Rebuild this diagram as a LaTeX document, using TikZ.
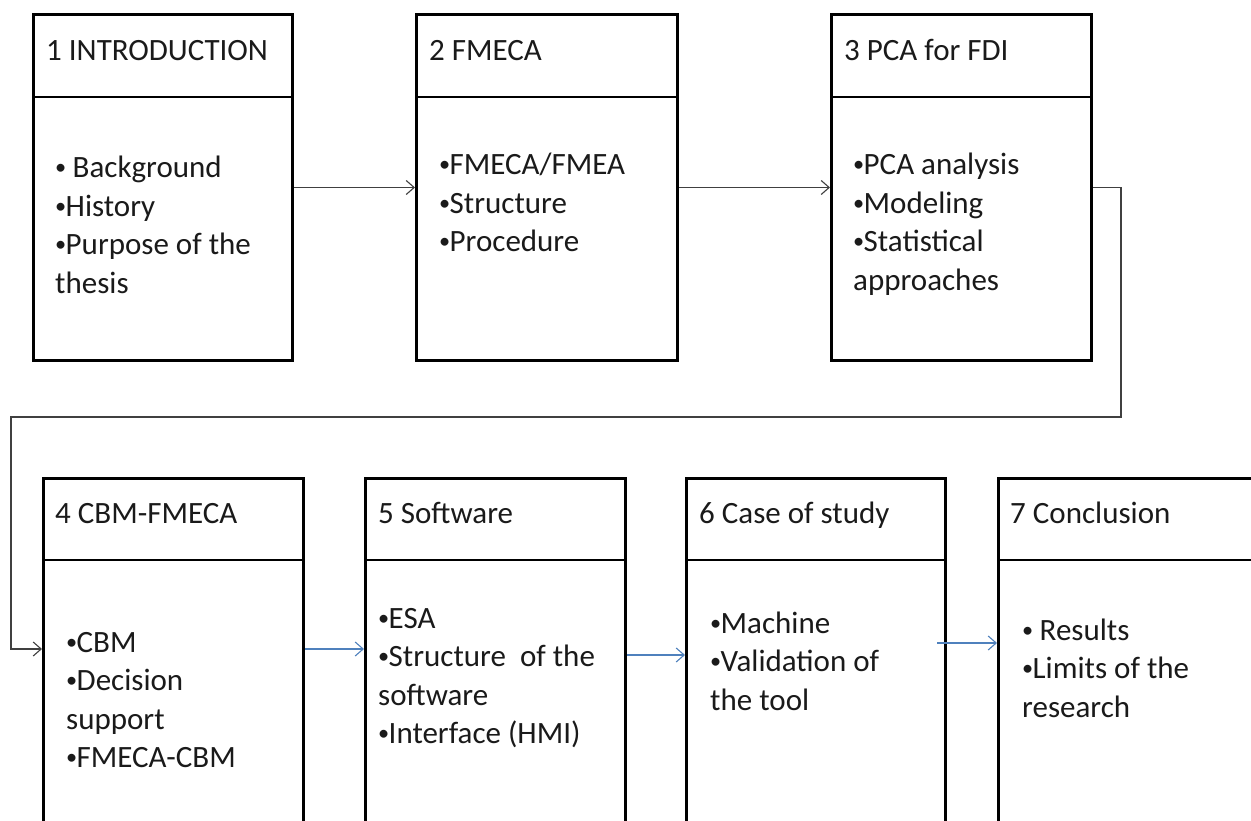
\documentclass[tikz,border=0pt]{standalone}
\usepackage{fontspec}
\setmainfont{Carlito}
\usetikzlibrary{arrows.meta}
\definecolor{txt}{HTML}{1A1A1A}
\definecolor{grayline}{HTML}{404040}
\definecolor{blueline}{HTML}{4F81BD}
\newcommand\bul{\makebox[10.5pt][l]{\raisebox{3pt}{\scalebox{0.72}{•}}}}
\newcommand\bodytext[1]{\parbox[t]{250pt}{\fontsize{31}{38.5}\selectfont\raggedright #1}}
\tikzset{
  box/.style={draw=black, line width=3pt, minimum width=260pt, inner sep=0pt, anchor=north west},
  topbox/.style={box, minimum height=346pt},
  lowbox/.style={box, minimum height=380pt},
  divider/.style={draw=black, line width=2pt},
  title/.style={anchor=base west, inner sep=0pt, text=txt, font=\fontsize{31}{37}\selectfont},
  body/.style={anchor=base west, inner sep=0pt, text=txt},
  gconn/.style={draw=grayline, line width=1.1pt, -{Straight Barb[length=8pt,width=14pt,line width=1.1pt]}},
  bconn/.style={draw=blueline, line width=1.1pt, -{Straight Barb[length=8pt,width=14pt,line width=1.1pt]}},
}
\begin{document}
\begin{tikzpicture}[x=1pt,y=-1pt]
\useasboundingbox (0,0) rectangle (1251,821);
\fill[white] (0,0) rectangle (1251,821);
\clip (0,0) rectangle (1251,821);

% top row boxes
\node[topbox, minimum width=259pt] (b1) at (32,13) {};
\node[topbox, minimum width=261pt] (b2) at (415,13) {};
\node[topbox] (b3) at (830,13) {};
% bottom row boxes
\node[lowbox] (b4) at (42,477) {};
\node[lowbox] (b5) at (364,477) {};
\node[lowbox, minimum width=259pt] (b6) at (685,477) {};
\node[lowbox, minimum width=280pt] (b7) at (997,477) {};

% header dividers
\foreach \b in {b1,b2,b3} {
  \draw[divider] ([yshift=-84pt]\b.north west) -- ([yshift=-84pt]\b.north east);
}
\foreach \b in {b4,b5,b6,b7} {
  \draw[divider] ([yshift=-83pt]\b.north west) -- ([yshift=-83pt]\b.north east);
}

% titles
\node[title] (h1) at (46,61) {1 INTRODUCTION};
\node[title] (h2) at (429,61) {2 FMECA};
\node[title] (h3) at (844,61) {3 PCA for FDI};
\node[title] (h4) at (55,523) {4 CBM-FMECA};
\node[title] (h5) at (378,523) {5 Software};
\node[title] (h6) at (699,523) {6 Case of study};
\node[title] (h7) at (1010,523) {7 Conclusion};

% bodies
\node[body] (t1) at (55,178) {\bodytext{\bul\ Background\\\bul History\\\bul Purpose of the\\thesis}};
\node[body] (t2) at (439,175) {\bodytext{\bul FMECA/FMEA\\\bul Structure\\\bul Procedure}};
\node[body] (t3) at (853,175) {\bodytext{\bul PCA analysis\\\bul Modeling\\\bul Statistical\\approaches}};
\node[body] (t4) at (66,652) {\bodytext{\bul CBM\\\bul Decision\\support\\\bul FMECA-CBM}};
\node[body] (t5) at (378,628) {\bodytext{\bul ESA\\\bul Structure\ \ of the\\software\\\bul Interface (HMI)}};
\node[body] (t6) at (710,633) {\bodytext{\bul Machine\\\bul Validation of\\the tool}};
\node[body] (t7) at (1022,640) {\bodytext{\bul\ Results\\\bul Limits of the\\research}};

% connectors
\coordinate (k1) at (1121,417);
\coordinate (k2) at (11,417);
\coordinate (r4) at (0,649);
\coordinate (r5) at (0,655);
\coordinate (r6) at (0,643);
\draw[gconn] (b1.east) -- (b2.west);
\draw[gconn] (b2.east) -- (b3.west);
\draw[gconn] (b3.east) -| (k1) -- (k2) |- (b4.west |- r4);
\draw[bconn] (b4.east |- r4) -- (b5.west |- r4);
\draw[bconn] (b5.east |- r5) -- (b6.west |- r5);
\draw[bconn] ([xshift=-10pt]b6.east |- r6) -- (b7.west |- r6);
\end{tikzpicture}
\end{document}
